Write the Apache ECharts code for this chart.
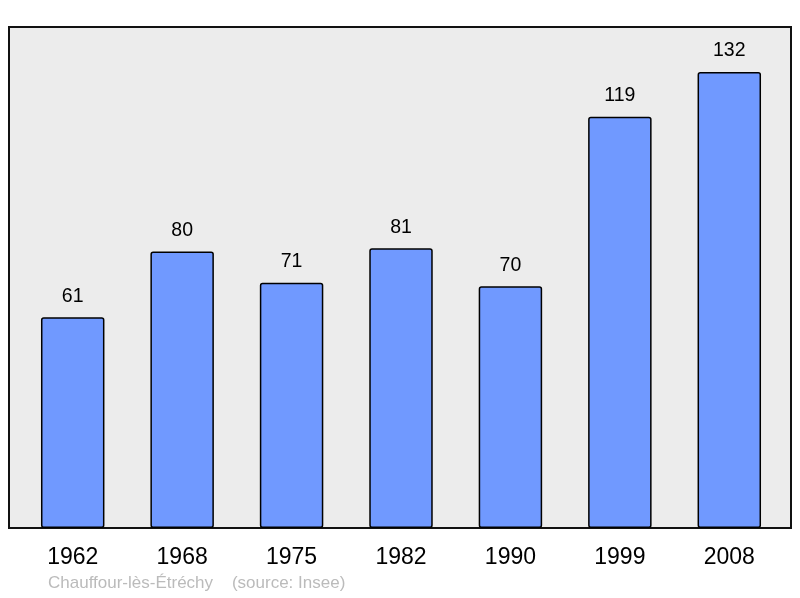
<!DOCTYPE html>
<html><head><meta charset="utf-8">
<script src="https://cdn.jsdelivr.net/npm/echarts@6/dist/echarts.min.js"></script>
<style>html,body{margin:0;padding:0;background:#fff}#c{width:800px;height:598px}</style>
</head><body><div id="c"></div>
<script>
const years = ['1962','1968','1975','1982','1990','1999','2008'];
const population = [61, 80, 71, 81, 70, 119, 132];
const footer = 'Chauffour-lès-Étréchy    (source: Insee)';

const chart = echarts.init(document.getElementById('c'));
chart.setOption({
  animation: false,
  backgroundColor: '#ffffff',
  textStyle: { fontFamily: 'Liberation Sans, Arial, sans-serif' },
  title: {
    text: footer, left: 43, top: 570,
    textStyle: { fontSize: 17, fontWeight: 'normal', color: '#bbbbbb', fontFamily: 'Liberation Sans, Arial, sans-serif' }
  },
  grid: [
    { left: 9, right: 9, top: 27, bottom: 70, show: true, backgroundColor: '#ececec', borderColor: '#111', borderWidth: 2, z: 0 },
    { left: 18, right: 16, top: 27, bottom: 70 }
  ],
  xAxis: [
    { gridIndex: 0, type: 'value', show: false, min: 0, max: 1, splitLine: { show: false } },
    { gridIndex: 1, type: 'category', data: years,
      axisLine: { show: false }, axisTick: { show: false },
      axisLabel: { fontSize: 23, color: '#000', margin: 18 } }
  ],
  yAxis: [
    { gridIndex: 0, type: 'value', show: false, min: 0, max: 1, splitLine: { show: false } },
    { gridIndex: 1, type: 'value', min: 0, max: 145, show: false, splitLine: { show: false } }
  ],
  series: [{
    type: 'bar', xAxisIndex: 1, yAxisIndex: 1, data: population, barWidth: '58%',
    itemStyle: { color: '#7099ff', borderColor: '#000', borderWidth: 1.5, borderRadius: 2 },
    label: { show: true, position: 'top', distance: 11, fontSize: 19.5, color: '#000' }
  }]
});
</script></body></html>
